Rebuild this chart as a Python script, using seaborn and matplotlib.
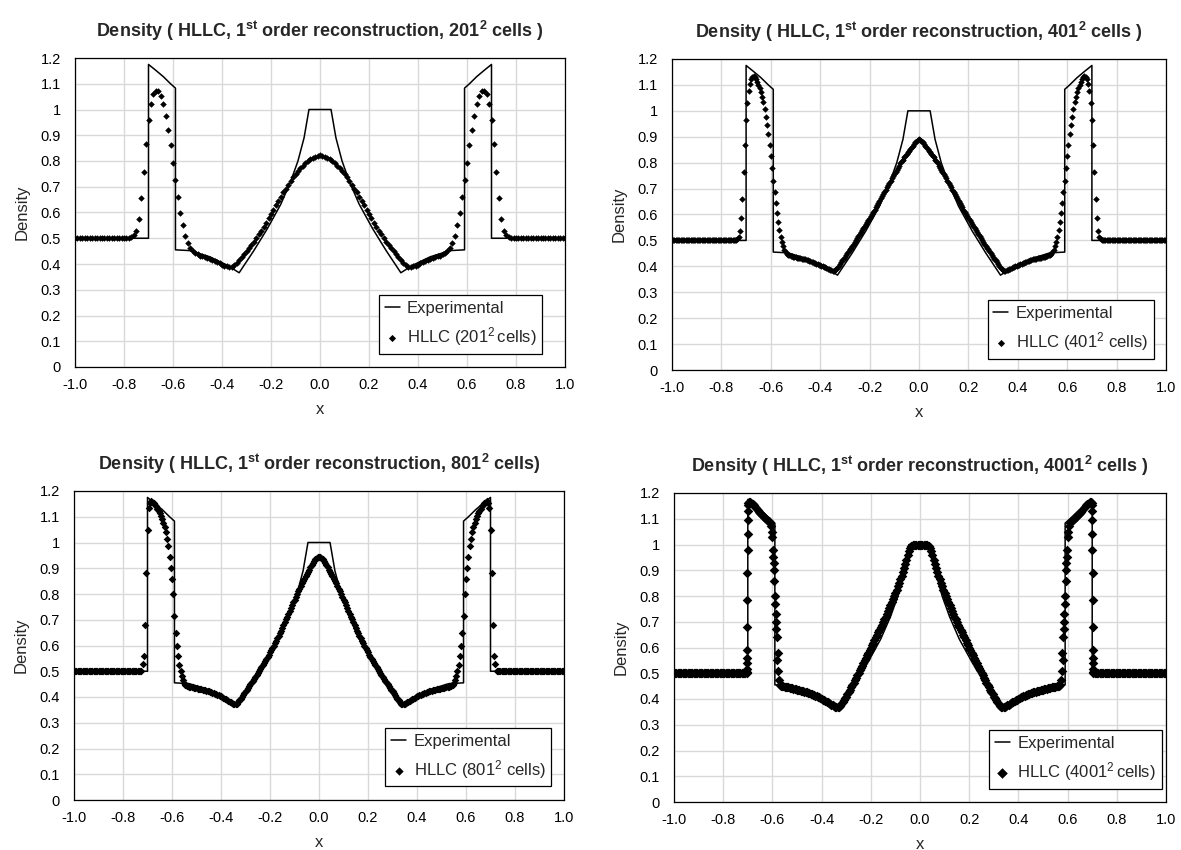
import matplotlib
matplotlib.use("Agg")
import matplotlib.pyplot as plt
from matplotlib.ticker import MultipleLocator, FuncFormatter
import numpy as np
import pandas as pd
import seaborn as sns

# All profiles are symmetric about x = 0, so only the left half (x = -1 .. 0)
# is listed; the right half is its mirror image.

# Exact solution (drawn as the "Experimental" line)
x_exp_half = [-1.0, -0.70, -0.70, -0.67, -0.64, -0.61, -0.59, -0.59, -0.53, -0.45,
              -0.38, -0.33, -0.27, -0.215, -0.16, -0.12, -0.09, -0.065, -0.045, 0.0]
rho_exp_half = [0.50, 0.50, 1.175, 1.152, 1.128, 1.100, 1.083, 0.455, 0.452, 0.428,
                0.396, 0.366, 0.452, 0.537, 0.632, 0.720, 0.800, 0.890, 1.000, 1.000]

# HLLC 201^2 cells, one value per cell, x = -1.00 .. 0.00 step 0.01
rho201_half = [0.50] * 23 + [
    0.503, 0.513, 0.530, 0.574, 0.657, 0.759, 0.867, 0.958, 1.023, 1.060,
    1.072, 1.070, 1.053, 1.020, 0.976, 0.922, 0.861, 0.793, 0.726, 0.660,
    0.600, 0.550, 0.510, 0.482, 0.463, 0.450, 0.442, 0.437, 0.433, 0.430,
    0.427, 0.424, 0.420, 0.416, 0.412, 0.408, 0.403, 0.398, 0.394, 0.391,
    0.389, 0.390, 0.396, 0.405, 0.416, 0.428, 0.440, 0.450, 0.461, 0.474,
    0.487, 0.501, 0.515, 0.530, 0.545, 0.561, 0.577, 0.594, 0.611, 0.628,
    0.645, 0.662, 0.678, 0.693, 0.708, 0.722, 0.736, 0.749, 0.761, 0.772,
    0.782, 0.791, 0.799, 0.806, 0.812, 0.817, 0.820, 0.822]

# HLLC 401^2 cells, x = -1.000 .. 0.000 step 0.005
rho401_half = [0.50] * 52 + [
    0.502, 0.505, 0.515, 0.538, 0.585, 0.660, 0.765, 0.870, 0.965, 1.030,
    1.075, 1.105, 1.122, 1.131, 1.134, 1.130, 1.122, 1.112, 1.100, 1.087,
    1.072, 1.055, 1.035, 1.008, 0.978,
    0.945, 0.910, 0.870, 0.825, 0.778, 0.730, 0.685, 0.645, 0.605, 0.570,
    0.540, 0.515, 0.495, 0.478, 0.464, 0.455, 0.449, 0.445, 0.442, 0.440,
    0.439, 0.437, 0.436, 0.435, 0.434, 0.433, 0.432, 0.431, 0.430, 0.429,
    0.428, 0.427, 0.425, 0.424, 0.422, 0.420, 0.418, 0.416, 0.414, 0.412,
    0.410, 0.408, 0.406, 0.404, 0.402, 0.400, 0.398, 0.396, 0.394, 0.391,
    0.389, 0.386, 0.384, 0.383, 0.383,
    0.385, 0.389, 0.395, 0.402, 0.409, 0.416, 0.423, 0.430, 0.437, 0.444,
    0.451, 0.458, 0.465, 0.472, 0.479, 0.487, 0.494, 0.502, 0.509, 0.517,
    0.524, 0.532, 0.540, 0.547, 0.555, 0.563, 0.571, 0.579, 0.587, 0.595,
    0.603, 0.611, 0.619, 0.628, 0.636, 0.645, 0.653, 0.662, 0.670, 0.679,
    0.688, 0.696, 0.705, 0.714, 0.722, 0.731, 0.739, 0.748, 0.756, 0.765,
    0.773, 0.781, 0.789, 0.797, 0.805, 0.812, 0.820, 0.827, 0.834, 0.840,
    0.846, 0.852, 0.860, 0.866, 0.872, 0.878, 0.883, 0.887, 0.890]

# HLLC 801^2 cells, every second cell, x = -1.000 .. 0.000 step 0.005
rho801_half = [0.50] * 56 + [
    0.530, 0.560, 0.680, 0.880, 1.050, 1.135, 1.155, 1.160, 1.158, 1.153,
    1.147, 1.140, 1.132, 1.124, 1.113, 1.102, 1.090, 1.076, 1.060, 1.040,
    1.015, 0.985, 0.945, 0.900, 0.860, 0.800, 0.715, 0.650, 0.600, 0.560,
    0.525, 0.500, 0.482, 0.466,
    0.455, 0.447, 0.444, 0.442, 0.440, 0.439, 0.438, 0.437, 0.436, 0.435, 0.434,
    0.433, 0.432, 0.431, 0.430, 0.429, 0.428, 0.427, 0.425, 0.424, 0.422,
    0.421, 0.419, 0.417, 0.415, 0.413, 0.411, 0.409, 0.407, 0.404, 0.402,
    0.399, 0.397, 0.394, 0.391, 0.388, 0.385, 0.382, 0.379, 0.376, 0.374,
    0.372, 0.372, 0.374, 0.380, 0.387, 0.394, 0.401, 0.408, 0.415, 0.422,
    0.429, 0.436, 0.443, 0.450, 0.457, 0.464, 0.471, 0.478, 0.486, 0.493,
    0.501, 0.508, 0.516, 0.524, 0.532, 0.540, 0.548, 0.556, 0.565, 0.573,
    0.582, 0.591, 0.600, 0.609, 0.618, 0.628, 0.638, 0.648, 0.658, 0.668,
    0.679, 0.690, 0.701, 0.712, 0.723, 0.734, 0.745, 0.756, 0.767, 0.778,
    0.789, 0.800, 0.811, 0.821, 0.831, 0.841, 0.851, 0.860, 0.869, 0.878,
    0.887, 0.895, 0.903, 0.912, 0.920, 0.928, 0.934, 0.939, 0.943, 0.945]

# HLLC 4001^2 cells, every tenth cell, x = -1.000 .. 0.000 step 0.005
rho4001_half = [0.50] * 60 + [
    1.160, 1.165, 1.166, 1.163, 1.158, 1.152, 1.146, 1.140, 1.134, 1.128,
    1.122, 1.117, 1.112, 1.108, 1.104, 1.100, 1.096, 1.092, 1.085, 1.070,
    1.030, 0.930, 0.800, 0.670, 0.550, 0.475, 0.455,
    0.452, 0.450, 0.449, 0.448, 0.447, 0.446, 0.445, 0.443, 0.442, 0.441,
    0.440, 0.439, 0.438, 0.436, 0.435, 0.434, 0.433, 0.432, 0.431, 0.429,
    0.428, 0.426, 0.425, 0.423, 0.421, 0.419, 0.417, 0.415, 0.413, 0.411,
    0.409, 0.406, 0.404, 0.401, 0.398, 0.396, 0.393, 0.390, 0.387, 0.384,
    0.381, 0.378, 0.375, 0.372, 0.370, 0.368, 0.367, 0.368, 0.373, 0.380,
    0.388, 0.395, 0.402, 0.409, 0.418, 0.427, 0.436, 0.445, 0.455, 0.464,
    0.473, 0.483, 0.492, 0.502, 0.511, 0.521, 0.530, 0.540, 0.550, 0.560,
    0.569, 0.579, 0.589, 0.599, 0.609, 0.619, 0.629, 0.639, 0.649, 0.659,
    0.669, 0.679, 0.689, 0.699, 0.709, 0.719, 0.730, 0.741, 0.752, 0.764,
    0.776, 0.788, 0.800, 0.812, 0.825, 0.838, 0.851, 0.865, 0.879, 0.894,
    0.909, 0.925, 0.941, 0.958, 0.975, 0.988, 0.995, 0.998, 1.000, 1.000,
    1.000, 1.000, 1.000, 1.000]

# extra 4001^2 cells inside the two steep jumps
x4001_jump = [-0.7036, -0.7033, -0.7030, -0.7027, -0.7024, -0.7021, -0.7018,
              -0.7015, -0.7012, -0.7009, -0.7006, -0.7003, -0.7001,
              -0.602, -0.598, -0.596, -0.594, -0.592, -0.588, -0.586,
              -0.584, -0.582, -0.578, -0.576]
rho4001_jump = [0.504, 0.515, 0.539, 0.559, 0.590, 0.678, 0.786, 0.891, 0.977,
                1.039, 1.094, 1.132, 1.153,
                1.050, 0.980, 0.950, 0.900, 0.860, 0.770, 0.730,
                0.700, 0.640, 0.580, 0.510]

panels = [
    ("201", " )", r"$\,$cells", rho201_half, 11),
    ("401", " )", " cells", rho401_half, 11),
    ("801", ")", " cells", rho801_half, 15),
    ("4001", " )", r"$\,$cells", rho4001_half, 24),
]
legend_anchor = [(0.954, 0.043), (0.975, 0.036), (0.974, 0.044), (0.992, 0.043)]
axes_rect = [(75, 58, 565, 367), (672, 59, 1166, 370),
             (74, 491, 564, 800), (674, 493, 1166, 802)]


def mirror(x_half, y_half):
    x = list(x_half) + [-v for v in reversed(list(x_half)[:-1])]
    y = list(y_half) + list(reversed(list(y_half)[:-1]))
    return x, y


sns.set_style("white")
plt.rcParams['font.family'] = ['Liberation Sans', 'DejaVu Sans']
plt.rcParams['mathtext.fontset'] = 'custom'
plt.rcParams['mathtext.rm'] = 'Liberation Sans'
plt.rcParams['mathtext.bf'] = 'Liberation Sans:bold'
plt.rcParams['mathtext.it'] = 'Liberation Sans:italic'
plt.rcParams['mathtext.default'] = 'rm'

W, H = 1181, 850
fig = plt.figure(figsize=(W / 100, H / 100), dpi=100)

ex, ey = mirror(x_exp_half, rho_exp_half)
df_exp = pd.DataFrame({'x': ex, 'Density': ey})

for i, (cells, close, gap, rho_half, msize) in enumerate(panels):
    l, t, r, b = axes_rect[i]
    ax = fig.add_axes([l / W, 1 - b / H, (r - l) / W, (b - t) / H])

    x_half = np.round(np.linspace(-1.0, 0.0, len(rho_half)), 4)
    hx, hy = mirror(x_half, rho_half)
    if cells == "4001":
        jx = x4001_jump + [-v for v in x4001_jump]
        jy = rho4001_jump + rho4001_jump
        hx, hy = hx + jx, hy + jy
    df_h = pd.DataFrame({'x': hx, 'Density': hy}).sort_values('x')

    sns.lineplot(data=df_exp, x='x', y='Density', sort=False, estimator=None,
                 color='black', linewidth=1.1, label='Experimental', ax=ax)
    sns.scatterplot(data=df_h, x='x', y='Density', marker='D', s=msize,
                    color='black', linewidth=0, ax=ax,
                    label=f'HLLC ({cells}$^{{2}}${gap})')

    ax.set_xlim(-1.0, 1.0)
    ax.set_ylim(0, 1.2)
    ax.xaxis.set_major_locator(MultipleLocator(0.2))
    ax.xaxis.set_minor_locator(MultipleLocator(0.05))
    ax.yaxis.set_major_locator(MultipleLocator(0.1))
    ax.yaxis.set_minor_locator(MultipleLocator(0.02))
    ax.xaxis.set_major_formatter(FuncFormatter(lambda v, p: f'{v:.1f}'))
    ax.yaxis.set_major_formatter(FuncFormatter(lambda v, p: f'{round(v, 2):g}'))
    ax.tick_params(which='both', direction='in', colors='black', labelsize=10.5)
    ax.tick_params(which='major', length=4, width=0.8)
    ax.tick_params(axis='x', which='major', pad=8)
    ax.tick_params(axis='y', which='major', pad=10)
    ax.tick_params(which='minor', length=2.5, width=0.6)
    ax.grid(True, which='major', color='#d9d9d9', linewidth=1.0)
    ax.set_axisbelow(True)
    for sp in ax.spines.values():
        sp.set_color('black')
        sp.set_linewidth(0.9)

    ax.set_xlabel('x', fontsize=12, labelpad=7)
    ax.set_ylabel('Density', fontsize=12, labelpad=8)
    ax.set_title(r'Density ( HLLC, 1$^{\mathbf{st}}$ order reconstruction, '
                 + cells + r'$^{\mathbf{2}}$ cells' + close,
                 fontsize=13, fontweight='bold', pad=15)

    leg = ax.legend(loc='lower right', bbox_to_anchor=legend_anchor[i],
                    borderaxespad=0, fontsize=12, frameon=True, fancybox=False,
                    framealpha=1, edgecolor='black', borderpad=0.35,
                    labelspacing=0.55, handlelength=0.9, handletextpad=0.45,
                    markerscale=1.1)
    leg.get_frame().set_linewidth(0.9)

plt.savefig('out.png', dpi=100)
plt.close()
